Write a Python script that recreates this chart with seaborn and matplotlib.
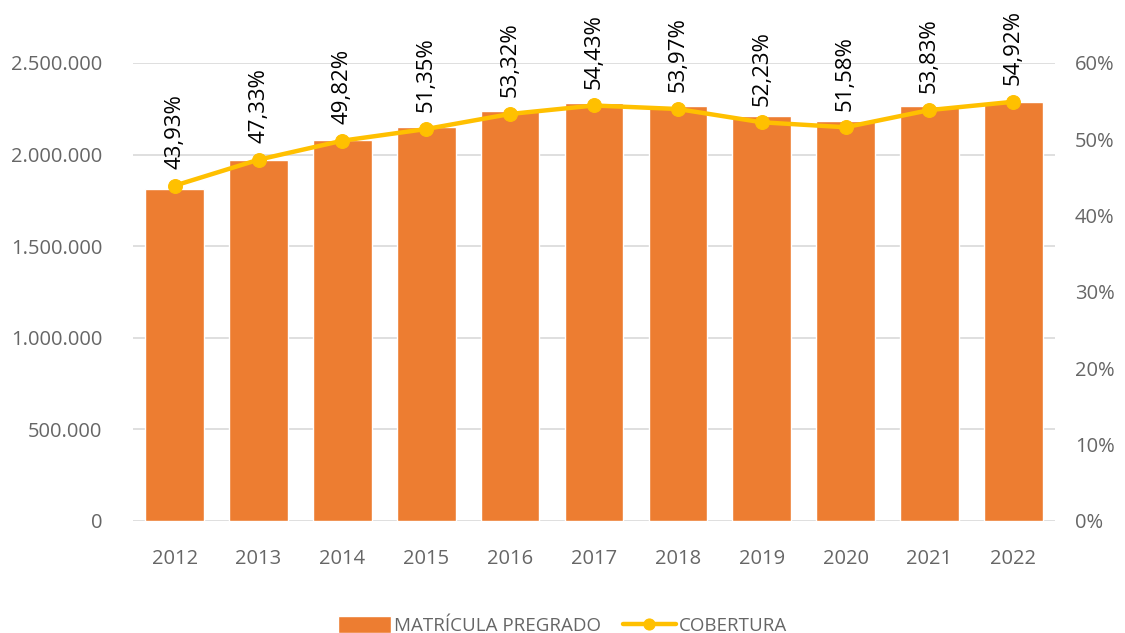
import matplotlib
matplotlib.use("Agg")
import matplotlib.pyplot as plt
import numpy as np
import pandas as pd
import seaborn as sns
from matplotlib.ticker import FuncFormatter, MultipleLocator

# Datos
years = ["2012", "2013", "2014", "2015", "2016", "2017",
         "2018", "2019", "2020", "2021", "2022"]
matricula = [1813000, 1968000, 2081000, 2150000, 2236000, 2281000,
             2267000, 2212000, 2181000, 2263000, 2285000]
cobertura = [43.93, 47.33, 49.82, 51.35, 53.32, 54.43,
             53.97, 52.23, 51.58, 53.83, 54.92]

BAR_COLOR = "#ED7D31"
LINE_COLOR = "#FFC000"
GRID_COLOR = "#D9D9D9"
TEXT_GRAY = "#666666"

sns.set_style("white")
plt.rcParams["font.family"] = ["Open Sans", "DejaVu Sans"]

df = pd.DataFrame({"year": years, "matricula": matricula, "cobertura": cobertura})
df["pos"] = np.arange(len(df))

fig = plt.figure(figsize=(11.25, 6.33), dpi=100)
ax = fig.add_axes([0.118, 0.177, 0.82, 0.7235])

sns.barplot(data=df, x="year", y="matricula", color=BAR_COLOR,
            saturation=1, width=0.7, ax=ax, zorder=2,
            label="MATRÍCULA PREGRADO", legend=False)

ax.set_ylim(0, 2500000)
ax.yaxis.set_major_locator(MultipleLocator(500000))
ax.yaxis.set_major_formatter(
    FuncFormatter(lambda v, _: f"{int(v):,}".replace(",", "."))
)
ax.grid(axis="y", color=GRID_COLOR, linewidth=1.2, zorder=0)
ax.set_axisbelow(True)
ax.set_xlabel("")
ax.set_ylabel("")
for side in ["top", "right", "left", "bottom"]:
    ax.spines[side].set_visible(False)
ax.tick_params(axis="y", length=0, labelsize=14.5, labelcolor=TEXT_GRAY, pad=22)
ax.tick_params(axis="x", length=0, labelsize=14.5, labelcolor=TEXT_GRAY, pad=20)
ax.set_xlim(-0.5, len(years) - 0.5)

ax2 = ax.twinx()
sns.lineplot(data=df, x="pos", y="cobertura", color=LINE_COLOR,
             linewidth=3.2, marker="o", markersize=10,
             markeredgecolor=LINE_COLOR, ax=ax2, label="COBERTURA",
             legend=False, zorder=3)
ax2.set_ylim(0, 60)
ax2.yaxis.set_major_locator(MultipleLocator(10))
ax2.yaxis.set_major_formatter(FuncFormatter(lambda v, _: f"{int(v)}%"))
ax2.set_xlabel("")
ax2.set_ylabel("")
for side in ["top", "right", "left", "bottom"]:
    ax2.spines[side].set_visible(False)
ax2.tick_params(axis="y", length=0, labelsize=14.5, labelcolor=TEXT_GRAY, pad=14)
ax2.set_xlim(-0.5, len(years) - 0.5)

# Etiquetas de cobertura
for p, v in zip(df["pos"], df["cobertura"]):
    ax2.annotate(f"{v:.2f}%".replace(".", ","), (p, v),
                 xytext=(0, 12), textcoords="offset points",
                 rotation=90, ha="center", va="bottom",
                 fontsize=16, color="black")

h1, l1 = ax.get_legend_handles_labels()
h2, l2 = ax2.get_legend_handles_labels()
leg = fig.legend(h1 + h2, l1 + l2, loc="lower center", ncol=2,
                 bbox_to_anchor=(0.5, -0.03), frameon=False, fontsize=13.5,
                 labelcolor=TEXT_GRAY, handlelength=2.8, handleheight=1.0,
                 handletextpad=0.15, columnspacing=1.2)
for line in leg.get_lines():
    line.set_markersize(8)

fig.savefig("out.png", dpi=100)
